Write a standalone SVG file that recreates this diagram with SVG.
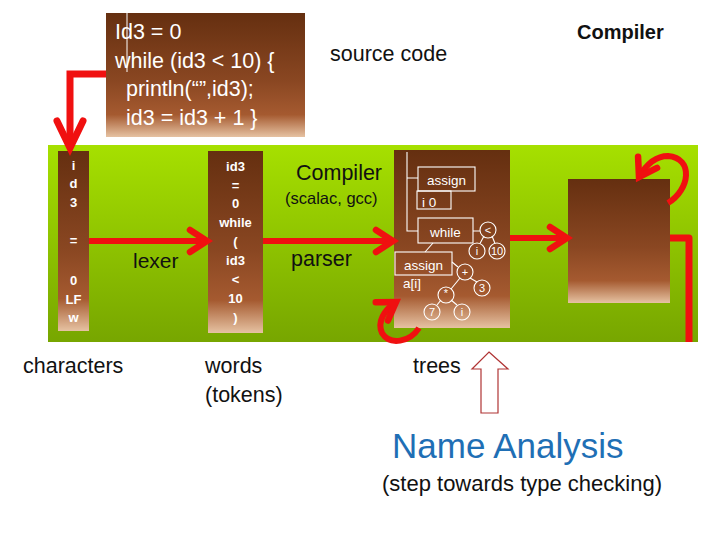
<svg xmlns="http://www.w3.org/2000/svg" width="720" height="540" viewBox="0 0 720 540">
<style>
text{font-family:"Liberation Sans",Arial,sans-serif;}
.lbl{font-size:21.5px;fill:#111;}
.code{font-size:21.5px;fill:#fff;}
.col{font-size:13px;fill:#fff;font-weight:bold;text-anchor:middle;}
.tr{font-size:13.5px;fill:#fff;}
.cl{font-size:11px;fill:#fff;text-anchor:middle;}
.tl{stroke:#fff;stroke-width:1.1;fill:none;}
.red{stroke:#f01010;fill:none;}
</style>
<defs>
<linearGradient id="brown" x1="0" y1="0" x2="0" y2="1">
<stop offset="0" stop-color="#652f10"/>
<stop offset="0.55" stop-color="#8a4722"/>
<stop offset="0.82" stop-color="#a55a30"/>
<stop offset="1" stop-color="#e6c2a2"/>
</linearGradient>
<linearGradient id="green" x1="0" y1="0" x2="0" y2="1">
<stop offset="0" stop-color="#a6e000"/>
<stop offset="1" stop-color="#77a600"/>
</linearGradient>
<marker id="head" markerUnits="userSpaceOnUse" markerWidth="30" markerHeight="30" viewBox="-4 -4 30 30" refX="18" refY="11" orient="auto" overflow="visible">
<path d="M1,0 L18,11 L1,22" fill="none" stroke="#f01010" stroke-width="6.5" stroke-linecap="round"/>
</marker>
<marker id="headLg" markerUnits="userSpaceOnUse" markerWidth="40" markerHeight="40" viewBox="-4 -4 40 40" refX="28" refY="13" orient="auto" overflow="visible">
<path d="M1,0 L28,13 L1,26" fill="none" stroke="#f01010" stroke-width="7" stroke-linecap="round"/>
</marker>
</defs>

<rect id="panel" x="48" y="145" width="650" height="197" fill="url(#green)"/>

<g id="source">
<rect x="106" y="13" width="199" height="124" fill="url(#brown)"/>
<line x1="127" y1="13" x2="127" y2="72" stroke="#fff" stroke-width="1"/>
<text class="code" x="115" y="39">Id3 = 0</text>
<text class="code" x="115" y="68">while (id3 &lt; 10) {</text>
<text class="code" x="126" y="96">println(“”,id3);</text>
<text class="code" x="126" y="125">id3 = id3 + 1 }</text>
</g>

<g id="chars">
<rect x="58" y="151" width="31" height="180" fill="url(#brown)"/>
<text class="col" x="73.5" y="169.5">i</text>
<text class="col" x="73.5" y="188">d</text>
<text class="col" x="73.5" y="206.5">3</text>
<text class="col" x="73.5" y="245">=</text>
<text class="col" x="73.5" y="284.5">0</text>
<text class="col" x="73.5" y="303.5">LF</text>
<text class="col" x="73.5" y="322">w</text>
</g>

<g id="words">
<rect x="208" y="151" width="55" height="182" fill="url(#brown)"/>
<text class="col" x="235.5" y="171">id3</text>
<text class="col" x="235.5" y="190">=</text>
<text class="col" x="235.5" y="208">0</text>
<text class="col" x="235.5" y="227">while</text>
<text class="col" x="235.5" y="246">(</text>
<text class="col" x="235.5" y="265">id3</text>
<text class="col" x="235.5" y="284">&lt;</text>
<text class="col" x="235.5" y="303">10</text>
<text class="col" x="235.5" y="322">)</text>
</g>

<g id="tree">
<rect x="394" y="150" width="116" height="178" fill="url(#brown)"/>
<path class="tl" d="M407,152 V231 H418 M407,178 H418"/>
<rect class="tl" x="418" y="167" width="57" height="24"/>
<text class="tr" x="446.5" y="185" text-anchor="middle">assign</text>
<rect class="tl" x="417" y="191" width="34" height="18"/>
<text class="tr" x="422" y="207">i 0</text>
<rect class="tl" x="418" y="218" width="55" height="25"/>
<text class="tr" x="445.5" y="237" text-anchor="middle">while</text>
<path class="tl" d="M473,231 H480 M484,236 L480,243.5 M492,236 L495,243.5 M433,243 L425,252 M452,262 L458,267 M470,278 L477,282 M460,278 L451,289 M441,300 L437,305 M451,300 L457,305"/>
<rect class="tl" x="395" y="252" width="57" height="23"/>
<text class="tr" x="423.5" y="270" text-anchor="middle">assign</text>
<text class="tr" x="403" y="288">a[i]</text>
<circle class="tl" cx="488" cy="230" r="8"/>
<text class="cl" x="488" y="234">&lt;</text>
<circle class="tl" cx="477" cy="251" r="8"/>
<text class="cl" x="477" y="255">i</text>
<circle class="tl" cx="497" cy="251" r="8"/>
<text class="cl" x="497" y="255">10</text>
<circle class="tl" cx="465" cy="272" r="8"/>
<text class="cl" x="465" y="276">+</text>
<circle class="tl" cx="482" cy="288" r="8"/>
<text class="cl" x="482" y="292">3</text>
<circle class="tl" cx="446" cy="295" r="8"/>
<text class="cl" x="446" y="297">*</text>
<circle class="tl" cx="432" cy="312" r="8"/>
<text class="cl" x="432" y="316">7</text>
<circle class="tl" cx="462" cy="312" r="8"/>
<text class="cl" x="462" y="316">i</text>
</g>

<g id="result">
<rect x="568" y="179" width="102" height="124" fill="url(#brown)"/>
</g>

<g id="connectors">
<path class="red" stroke-width="7" d="M106,74 H70 V148" marker-end="url(#headLg)"/>
<path class="red" stroke-width="6" d="M89,241 H207" marker-end="url(#head)"/>
<path class="red" stroke-width="6" d="M263,241 H393" marker-end="url(#head)"/>
<path class="red" stroke-width="6" d="M510,238 H567" marker-end="url(#head)"/>
<path class="red" stroke-width="6" d="M668,203 C690,190 694,158 668,156 C656,156 646,165 639,177" marker-end="url(#head)"/>
<path class="red" stroke-width="6" d="M419,328 C410,342 390,346 382,333 C377,322 384,310 396,302" marker-end="url(#head)"/>
<path class="red" stroke-width="7" stroke-linejoin="round" d="M670,238 H689 V342"/>
<polygon points="489,352 508,369 498,369 498,413 481,413 481,369 472,369" fill="#fff" stroke="#b03434" stroke-width="1.2"/>
</g>

<g id="labels">
<text class="lbl" x="330" y="61">source code</text>
<text class="lbl" x="577" y="39" style="font-size:20px;font-weight:bold">Compiler</text>
<text class="lbl" x="296" y="180">Compiler</text>
<text class="lbl" x="285" y="204" style="font-size:16.5px">(scalac, gcc)</text>
<text class="lbl" x="133" y="268" style="font-size:21px">lexer</text>
<text class="lbl" x="291" y="266">parser</text>
<text class="lbl" x="23" y="373">characters</text>
<text class="lbl" x="205" y="373">words</text>
<text class="lbl" x="205" y="402">(tokens)</text>
<text class="lbl" x="413" y="373">trees</text>
<text x="392" y="458" style="font-size:35px;fill:#1f6fb5">Name Analysis</text>
<text class="lbl" x="382" y="491" style="font-size:22px">(step towards type checking)</text>
</g>
</svg>
